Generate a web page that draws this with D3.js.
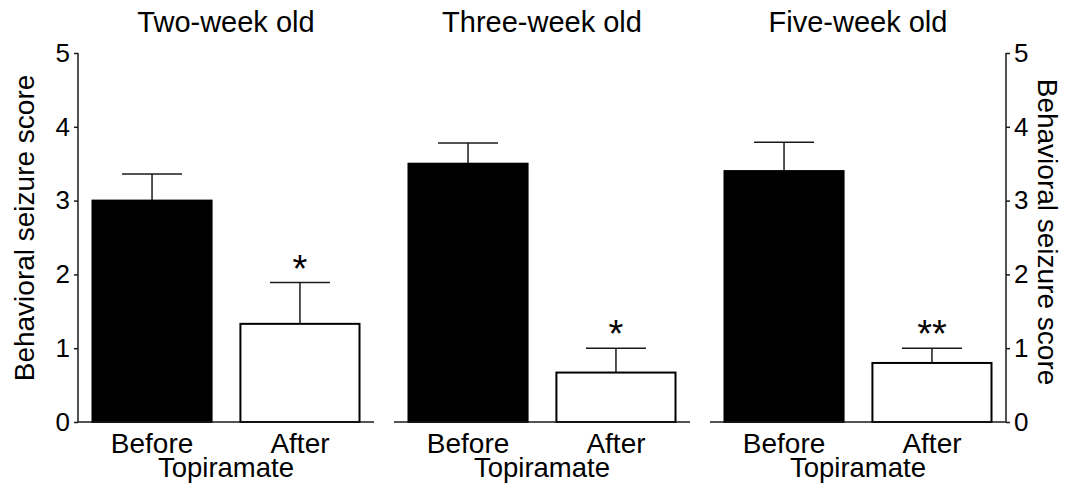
<!DOCTYPE html>
<html><head><meta charset="utf-8">
<script src="https://cdn.jsdelivr.net/npm/d3@7"></script>
<style>html,body{margin:0;padding:0;background:#fff;}svg{display:block;}</style>
</head><body>
<svg id="c" width="1082" height="494"></svg>
<script>
const groups = ["Two-week old", "Three-week old", "Five-week old"];
const conditions = ["Before", "After"];
const beforeMean = [3.0, 3.5, 3.4];
const beforeErr  = [0.36, 0.28, 0.39];
const afterMean  = [1.33, 0.67, 0.8];
const afterErr   = [0.56, 0.33, 0.2];
const significance = ["*", "*", "**"];
const yTicks = [0, 1, 2, 3, 4, 5];
const yLabel = "Behavioral seizure score";
const xLabel = "Topiramate";

const svg = d3.select("#c");
const font = "Arial, 'Liberation Sans', sans-serif";
const ink = "#1a1a1a";

const y = d3.scaleLinear().domain([0, 5]).range([422, 53]);
const panel = d3.scaleBand().domain(groups).range([78, 1006]).paddingInner(0.0633);
const inner = d3.scaleBand().domain(conditions).range([0, panel.bandwidth()]).paddingInner(0.195).paddingOuter(0.098);

const left = svg.append("g").attr("transform", "translate(78,0)")
  .call(d3.axisLeft(y).tickValues(yTicks).tickSize(4).tickPadding(4).tickFormat(d3.format("d")));
const right = svg.append("g").attr("transform", "translate(1006,0)")
  .call(d3.axisRight(y).tickValues(yTicks).tickSize(4).tickPadding(4).tickFormat(d3.format("d")));
[left, right].forEach(a => {
  a.select(".domain").remove();
  a.selectAll(".tick line").attr("stroke", ink).attr("stroke-width", 1.5);
  a.selectAll(".tick text").attr("font-family", font).attr("font-size", 26).attr("fill", "#000");
});
svg.append("line").attr("x1", 78).attr("x2", 78).attr("y1", y(5)).attr("y2", y(0)).attr("stroke", ink).attr("stroke-width", 1.5);
svg.append("line").attr("x1", 1006).attr("x2", 1006).attr("y1", y(5)).attr("y2", y(0)).attr("stroke", ink).attr("stroke-width", 1.5);

svg.append("text").attr("transform", `translate(34,228) rotate(-90)`)
  .attr("text-anchor", "middle").attr("font-family", font).attr("font-size", 28).text(yLabel);
svg.append("text").attr("transform", `translate(1038,232) rotate(90)`)
  .attr("text-anchor", "middle").attr("font-family", font).attr("font-size", 28).text(yLabel);

groups.forEach((g, i) => {
  const px = panel(g);
  const pg = svg.append("g").attr("transform", `translate(${px},0)`);
  const data = [
    {c: "Before", m: beforeMean[i], e: beforeErr[i], fill: "#000"},
    {c: "After", m: afterMean[i], e: afterErr[i], fill: "#fff"}
  ];
  data.forEach(d => {
    const cx = inner(d.c) + inner.bandwidth() / 2;
    pg.append("line").attr("x1", cx).attr("x2", cx).attr("y1", y(d.m)).attr("y2", y(d.m + d.e))
      .attr("stroke", ink).attr("stroke-width", 1.5);
    pg.append("line").attr("x1", cx - 30).attr("x2", cx + 30).attr("y1", y(d.m + d.e)).attr("y2", y(d.m + d.e))
      .attr("stroke", ink).attr("stroke-width", 1.5);
  });
  pg.selectAll("rect").data(data).join("rect")
    .attr("x", d => inner(d.c)).attr("width", inner.bandwidth())
    .attr("y", d => y(d.m)).attr("height", d => y(0) - y(d.m))
    .attr("fill", d => d.fill).attr("stroke", "#000").attr("stroke-width", 2);
  pg.append("line").attr("x1", 0).attr("x2", panel.bandwidth()).attr("y1", y(0)).attr("y2", y(0))
    .attr("stroke", ink).attr("stroke-width", 1.5);
  const a = data[1];
  pg.append("text").attr("x", inner("After") + inner.bandwidth() / 2).attr("y", y(a.m + a.e) - 1)
    .attr("text-anchor", "middle").attr("font-family", font).attr("font-size", 38).text(significance[i]);
  conditions.forEach(c => {
    pg.append("text").attr("x", inner(c) + inner.bandwidth() / 2).attr("y", 453)
      .attr("text-anchor", "middle").attr("font-family", font).attr("font-size", 28).text(c);
  });
  pg.append("text").attr("x", panel.bandwidth() / 2).attr("y", 477)
    .attr("text-anchor", "middle").attr("font-family", font).attr("font-size", 27.5).text(xLabel);
  pg.append("text").attr("x", panel.bandwidth() / 2).attr("y", 32)
    .attr("text-anchor", "middle").attr("font-family", font).attr("font-size", 29).text(g);
});
</script>
</body></html>
